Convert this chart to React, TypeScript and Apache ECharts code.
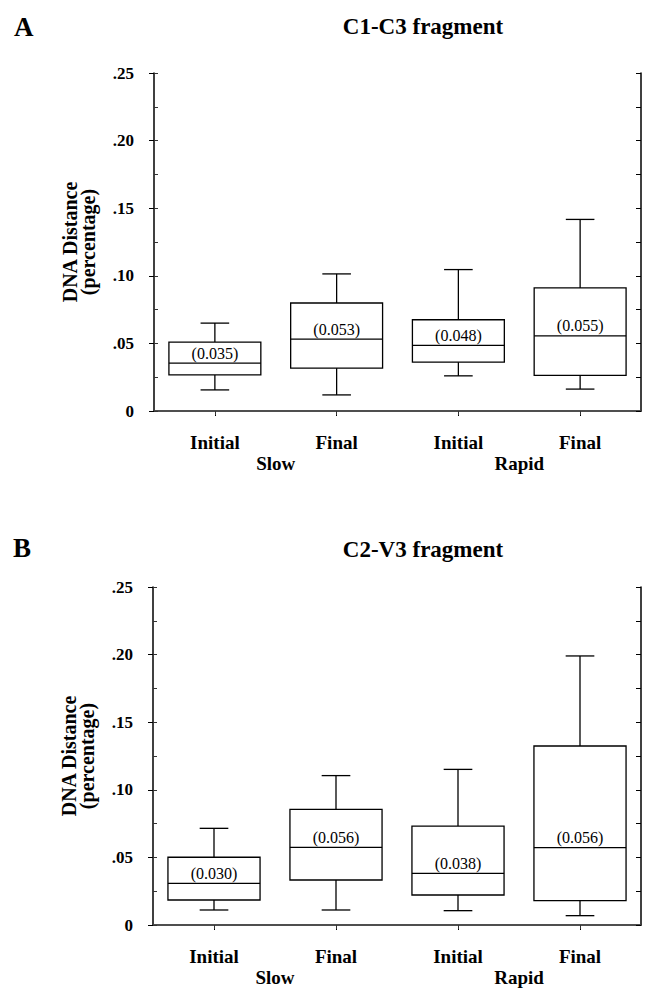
import React, { useEffect, useRef } from "react";
import * as echarts from "echarts";

const categories = ["Initial", "Final", "Initial", "Final"];
const groups = ["Slow", "Rapid"];
const yTickLabels = ["0", ".05", ".10", ".15", ".20", ".25"];

// Panel A: C1-C3 fragment
const minA = [0.0156, 0.0119, 0.026, 0.0162];
const q1A = [0.0267, 0.0317, 0.0361, 0.0264];
const medA = [0.0354, 0.0532, 0.0485, 0.0555];
const q3A = [0.051, 0.0799, 0.0675, 0.091];
const maxA = [0.065, 0.1014, 0.1046, 0.1417];
const labelsA = ["(0.035)", "(0.053)", "(0.048)", "(0.055)"];

// Panel B: C2-V3 fragment
const minB = [0.0111, 0.0111, 0.0106, 0.0069];
const q1B = [0.0185, 0.0333, 0.0222, 0.018];
const medB = [0.0308, 0.0574, 0.0382, 0.0572];
const q3B = [0.0501, 0.0855, 0.0732, 0.1324];
const maxB = [0.0715, 0.1105, 0.1151, 0.199];
const labelsB = ["(0.030)", "(0.056)", "(0.038)", "(0.056)"];

const SERIF = '"Liberation Serif", "Times New Roman", serif';

function rows(mn: number[], q1: number[], md: number[], q3: number[], mx: number[]) {
  return mn.map((_, i) => [i, mn[i], q1[i], md[i], q3[i], mx[i]]);
}

function makeRender(labels: string[]) {
  return (params: any, api: any) => {
    const x = api.value(0);
    const pMin = api.coord([x, api.value(1)]);
    const pQ1 = api.coord([x, api.value(2)]);
    const pMed = api.coord([x, api.value(3)]);
    const pQ3 = api.coord([x, api.value(4)]);
    const pMax = api.coord([x, api.value(5)]);
    const band = api.size([1, 0])[0];
    const bw = band * 0.755;
    const cw = band * 0.235;
    const cx = pMin[0];
    const st = { stroke: "#000", lineWidth: 1.3, fill: "none" };
    return {
      type: "group",
      children: [
        { type: "rect", shape: { x: cx - bw / 2, y: pQ3[1], width: bw, height: pQ1[1] - pQ3[1] }, style: st },
        { type: "line", shape: { x1: cx - bw / 2, y1: pMed[1], x2: cx + bw / 2, y2: pMed[1] }, style: st },
        { type: "line", shape: { x1: cx, y1: pQ3[1], x2: cx, y2: pMax[1] }, style: st },
        { type: "line", shape: { x1: cx, y1: pQ1[1], x2: cx, y2: pMin[1] }, style: st },
        { type: "line", shape: { x1: cx - cw / 2, y1: pMax[1], x2: cx + cw / 2, y2: pMax[1] }, style: st },
        { type: "line", shape: { x1: cx - cw / 2, y1: pMin[1], x2: cx + cw / 2, y2: pMin[1] }, style: st },
        {
          type: "text",
          style: {
            text: labels[params.dataIndex],
            x: cx,
            y: pMed[1] - 2,
            align: "center",
            verticalAlign: "bottom",
            fontFamily: SERIF,
            fontSize: 16,
            fill: "#000",
          },
        },
      ],
    };
  };
}

function axesFor(g: number) {
  const xAxes = [
    {
      type: "category",
      gridIndex: g,
      data: categories,
      position: "bottom",
      axisLine: { show: true, lineStyle: { color: "#000", width: 1.5 } },
      axisTick: { show: true, alignWithLabel: true, length: 5, lineStyle: { color: "#000" } },
      axisLabel: { fontFamily: SERIF, fontWeight: "bold", fontSize: 19, color: "#000", margin: 22 },
      splitLine: { show: false },
    },
    {
      type: "category",
      gridIndex: g,
      data: groups,
      position: "bottom",
      axisLine: { show: false },
      axisTick: { show: false },
      axisLabel: { fontFamily: SERIF, fontWeight: "bold", fontSize: 19, color: "#000", margin: 43 },
      splitLine: { show: false },
    },
    {
      type: "category",
      gridIndex: g,
      data: categories,
      position: "top",
      axisLine: { show: true, lineStyle: { color: "#555", width: 1.5 } },
      axisTick: { show: true, inside: true, alignWithLabel: true, length: 4, lineStyle: { color: "#333" } },
      axisLabel: { show: false },
      splitLine: { show: false },
    },
  ];
  const yAxes = [
    {
      type: "value",
      gridIndex: g,
      min: 0,
      max: 0.25,
      interval: 0.05,
      position: "left",
      axisLine: { show: true, lineStyle: { color: "#000", width: 1.5 } },
      axisTick: { show: true, length: 5, lineStyle: { color: "#000" } },
      axisLabel: {
        formatter: (_v: number, i: number) => yTickLabels[i],
        fontFamily: SERIF,
        fontWeight: "bold",
        fontSize: 17,
        color: "#000",
        margin: 20,
      },
      splitLine: { show: false },
      name: "DNA Distance\n(percentage)",
      nameLocation: "middle",
      nameRotate: 90,
      nameGap: 57,
      nameTextStyle: { fontFamily: SERIF, fontWeight: "bold", fontSize: 20, lineHeight: 18, color: "#000" },
    },
    {
      type: "value",
      gridIndex: g,
      min: 0,
      max: 0.25,
      interval: 0.025,
      position: "left",
      axisLine: { show: false },
      axisTick: { show: true, inside: true, length: 4, lineStyle: { color: "#333" } },
      axisLabel: { show: false },
      splitLine: { show: false },
    },
    {
      type: "value",
      gridIndex: g,
      min: 0,
      max: 0.25,
      interval: 0.025,
      position: "right",
      axisLine: { show: true, lineStyle: { color: "#000", width: 1.5 } },
      axisTick: { show: true, inside: true, length: 5, lineStyle: { color: "#000" } },
      axisLabel: { show: false },
      splitLine: { show: false },
    },
  ];
  return { xAxes, yAxes };
}

export default function App() {
  const ref = useRef<HTMLDivElement>(null);
  useEffect(() => {
    if (!ref.current) return;
    const chart = echarts.init(ref.current, null, { renderer: "svg" });
    const a = axesFor(0);
    const b = axesFor(1);
    const titleStyle = { fontFamily: SERIF, fontWeight: "bold", color: "#000" };
    chart.setOption({
      animation: false,
      backgroundColor: "#fff",
      title: [
        { text: "A", left: 9, top: 8, textStyle: { ...titleStyle, fontSize: 27 } },
        { text: "C1-C3 fragment", left: 418, top: 10, textAlign: "center", textStyle: { ...titleStyle, fontSize: 23 } },
        { text: "B", left: 8, top: 529, textStyle: { ...titleStyle, fontSize: 27 } },
        { text: "C2-V3 fragment", left: 418, top: 533, textAlign: "center", textStyle: { ...titleStyle, fontSize: 23 } },
      ],
      grid: [
        { left: 154, right: 4, top: 73, height: 338 },
        { left: 153, right: 4, top: 587, height: 338 },
      ],
      xAxis: [...a.xAxes, ...b.xAxes],
      yAxis: [...a.yAxes, ...b.yAxes],
      series: [
        {
          type: "custom",
          xAxisIndex: 0,
          yAxisIndex: 0,
          data: rows(minA, q1A, medA, q3A, maxA),
          encode: { x: 0, y: [1, 2, 3, 4, 5] },
          renderItem: makeRender(labelsA),
        },
        {
          type: "custom",
          xAxisIndex: 3,
          yAxisIndex: 3,
          data: rows(minB, q1B, medB, q3B, maxB),
          encode: { x: 0, y: [1, 2, 3, 4, 5] },
          renderItem: makeRender(labelsB),
        },
      ],
    });
    return () => chart.dispose();
  }, []);
  return (
    <div
      ref={ref}
      style={{ position: "absolute", left: 0, top: 0, width: 645, height: 995, background: "#fff" }}
    />
  );
}
